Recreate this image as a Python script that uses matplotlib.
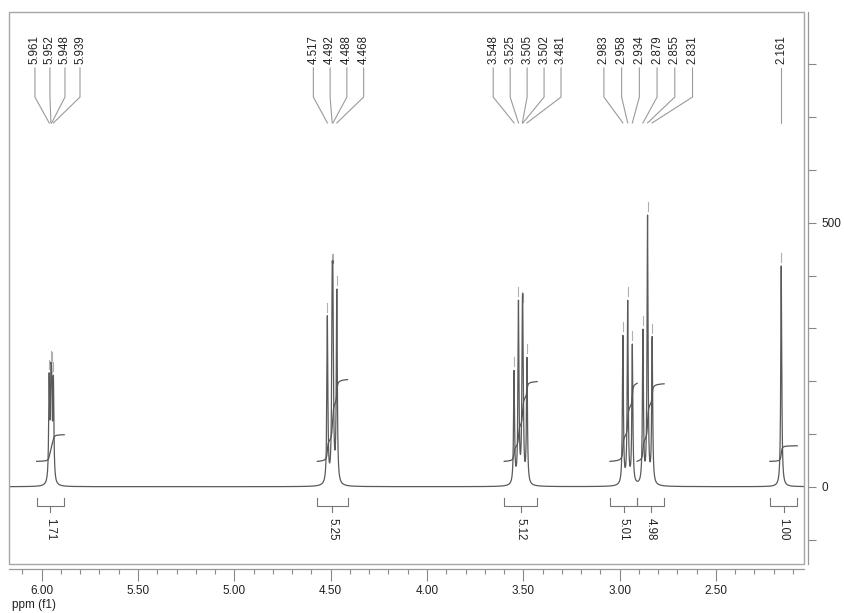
import numpy as np
import matplotlib
matplotlib.use('Agg')
import matplotlib.pyplot as plt
from matplotlib.ticker import MultipleLocator, FixedLocator, FuncFormatter
from matplotlib.patches import Rectangle

plt.rcParams['font.family'] = ['Liberation Sans', 'DejaVu Sans']

# ---------------- data ----------------
group1_ppm = [5.961, 5.952, 5.948, 5.939]
group1_int = [190, 150, 148, 185]
group2_ppm = [4.517, 4.492, 4.488, 4.468]
group2_int = [315, 298, 298, 362]
group3_ppm = [3.548, 3.525, 3.505, 3.502, 3.481]
group3_int = [212, 340, 221, 221, 235]
group4_ppm = [2.983, 2.958, 2.934, 2.879, 2.855, 2.831]
group4_int = [280, 344, 262, 288, 505, 275]
group5_ppm = [2.161]
group5_int = [418]

integral_ranges = [(6.026, 5.883), (4.569, 4.412), (3.599, 3.428),
                   (3.050, 2.909), (2.909, 2.769), (2.220, 2.078)]
integral_values = [1.71, 5.25, 5.12, 5.01, 4.98, 1.00]

x_major = [6.00, 5.50, 5.00, 4.50, 4.00, 3.50, 3.00, 2.50]
y_labeled = [0, 500]

# ---------------- layout / style ----------------
XLIM = (6.168, 2.043)
YLIM = (-146.4, 898.5)
W = 0.006  # line width (ppm)
label_offset = [0.032, 0.032, 0.032, 0.055, 0.0]
label_spacing = [0.078, 0.087, 0.088, 0.092, 0.0]
INTEGRAL_BASE = 48
INTEGRAL_SCALE = 29.5

groups_ppm = [group1_ppm, group2_ppm, group3_ppm, group4_ppm, group5_ppm]
groups_int = [group1_int, group2_int, group3_int, group4_int, group5_int]

all_ppm = np.array(sum(groups_ppm, []))
all_int = np.array(sum(groups_int, []))

x = np.arange(XLIM[1], XLIM[0], 0.0002)


def spectrum(xx):
    xx = np.atleast_1d(xx)
    d = xx[:, None] - all_ppm[None, :]
    return (all_int[None, :] / (1 + (2 * d / W) ** 2)).sum(axis=1)


y = spectrum(x)

fig = plt.figure(figsize=(8.45, 6.13), dpi=100)
ax = fig.add_axes([9.3 / 845, 1 - 564 / 613, (804 - 9.3) / 845, (564 - 12.3) / 613])
ax.set_xlim(*XLIM)
ax.set_ylim(*YLIM)

# frame box
ax.add_patch(Rectangle((0, 0), 1, 1, transform=ax.transAxes, fill=False,
                       ec='#a6a6a6', lw=1.0, clip_on=False, zorder=5))
for s in ['top', 'left']:
    ax.spines[s].set_visible(False)
ax.spines['bottom'].set_position(('outward', 3.8))
ax.spines['right'].set_position(('outward', 3.1))
for s in ['bottom', 'right']:
    ax.spines[s].set_color('#999999')
    ax.spines[s].set_linewidth(0.9)

# spectrum
ax.plot(x, y, color='#5a5a5a', lw=0.9, zorder=3)

# peak marker dashes
tips = spectrum(all_ppm)
px = 1 / 0.528  # value units per pixel
for p, t in zip(all_ppm, tips):
    ax.plot([p, p], [t + 4 * px, t + 13 * px], color='#b0b0b0', lw=0.8, zorder=2)

# peak labels with connectors
y_text = 800.6
y_top = 793
y_bend = 738
y_end = 689
for gi, (gp, off, sp) in enumerate(zip(groups_ppm, label_offset, label_spacing)):
    n = len(gp)
    c = np.mean(gp) - off
    for i, p in enumerate(gp):
        lx = c + ((n - 1) / 2 - i) * sp
        ax.text(lx, y_text, f'{p:.3f}', rotation=90, ha='center', va='bottom',
                fontsize=8.3, color='#222222')
        ax.plot([lx, lx, p], [y_top, y_bend, y_end], color='#9a9a9a', lw=0.8)

# integrals
for (a, b), val in zip(integral_ranges, integral_values):
    m = (x <= a) & (x >= b)
    xs = x[m][::-1]  # from high ppm to low ppm
    ys = y[m][::-1]
    cs = np.cumsum(ys)
    cs = cs / cs[-1] * val * INTEGRAL_SCALE + INTEGRAL_BASE
    ax.plot(xs, cs, color='#555555', lw=0.9, zorder=4)
    # bracket
    yb = (486.7 - 506) / 0.528
    ax.plot([a, a, b, b], [yb + 8 * px, yb, yb, yb + 8 * px], color='#777777', lw=0.8)
    mid = (a + b) / 2
    ax.plot([mid, mid], [yb, yb - 6 * px], color='#777777', lw=0.8)
    ax.text(mid, yb - 12 * px, f'{val:.2f}', rotation=-90, ha='center', va='top',
            fontsize=8.3, color='#222222')

# x axis
ax.xaxis.set_major_locator(FixedLocator(x_major))
ax.xaxis.set_minor_locator(MultipleLocator(0.1))
ax.xaxis.set_major_formatter(FuncFormatter(lambda v, p: f'{v:.2f}'))
ax.tick_params(axis='x', which='major', direction='out', length=8.8, width=0.8,
               color='#888888', labelsize=8.5, pad=2.5, labelcolor='#222222')
ax.tick_params(axis='x', which='minor', direction='out', length=3.6, width=0.8,
               color='#888888')

# y axis on right
ax.yaxis.tick_right()
ax.yaxis.set_major_locator(FixedLocator(list(range(-100, 900, 100))))
ax.yaxis.set_major_formatter(FuncFormatter(
    lambda v, p: f'{int(round(v))}' if int(round(v)) in y_labeled else ''))
ax.tick_params(axis='y', which='major', direction='out', length=5.8, width=0.8,
               color='#888888', labelsize=8.5, pad=3.5, labelcolor='#222222')

fig.text(12 / 845, 1 - 605 / 613, 'ppm (f1)', fontsize=8.5, ha='left', va='center',
         color='#222222')

fig.savefig('out.png', dpi=100)
